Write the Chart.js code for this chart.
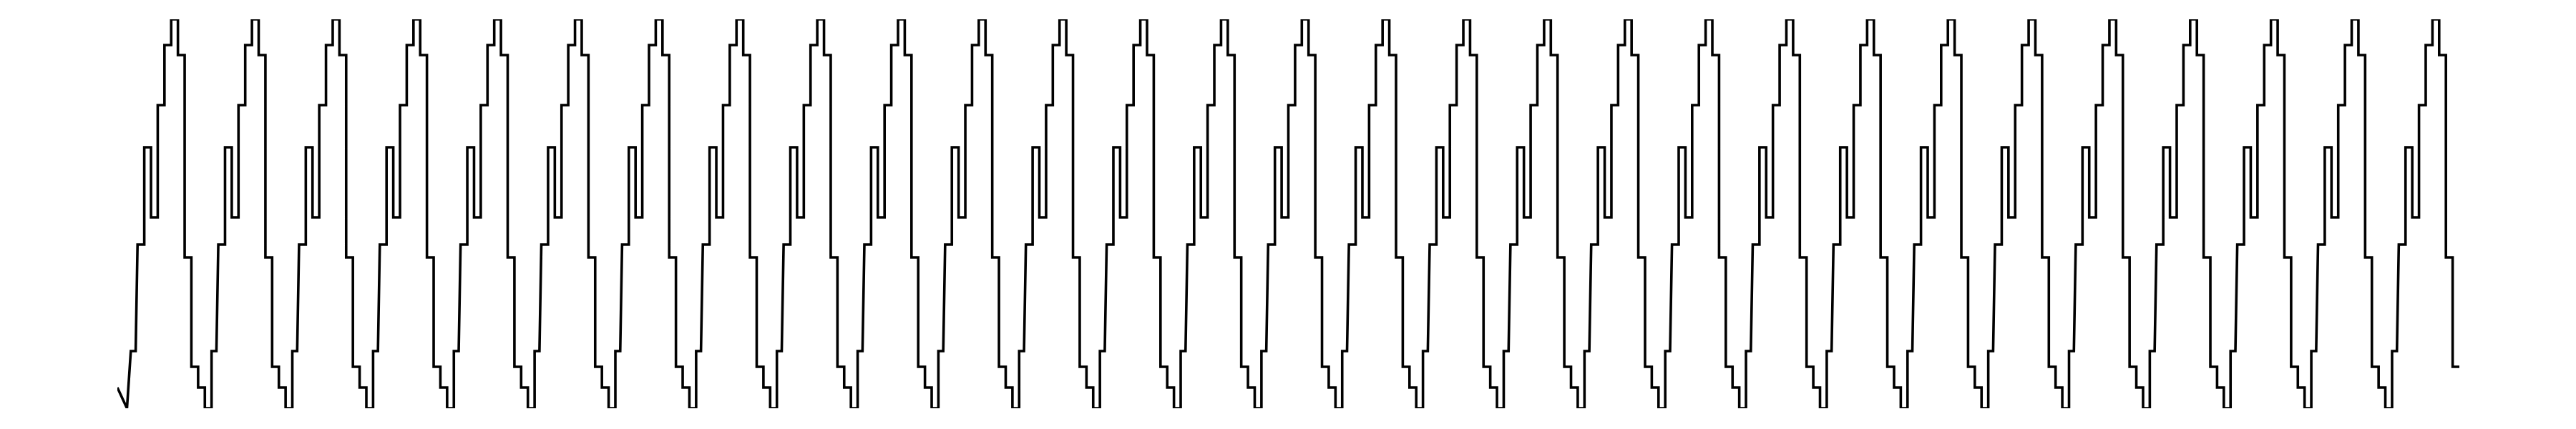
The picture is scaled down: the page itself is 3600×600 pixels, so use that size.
<!DOCTYPE html>
<html>
<head>
<meta charset="utf-8">
<title>Step signal</title>
<script src="https://cdn.jsdelivr.net/npm/chart.js@4.4.1/dist/chart.umd.min.js"></script>
<style>
  html, body { margin: 0; padding: 0; background: #fff; }
  #chartBox { width: 3600px; height: 600px; }
</style>
</head>
<body>
<div id="chartBox"><canvas id="stepChart" width="3600" height="600"></canvas></div>
<script>
// signal level per sample (one row = one cycle of 12 samples)
var values = [
  29, 0, 80, 229, 365, 267, 424, 508, 544, 494, 211, 58,
  29, 0, 80, 229, 365, 267, 424, 508, 544, 494, 211, 58,
  29, 0, 80, 229, 365, 267, 424, 508, 544, 494, 211, 58,
  29, 0, 80, 229, 365, 267, 424, 508, 544, 494, 211, 58,
  29, 0, 80, 229, 365, 267, 424, 508, 544, 494, 211, 58,
  29, 0, 80, 229, 365, 267, 424, 508, 544, 494, 211, 58,
  29, 0, 80, 229, 365, 267, 424, 508, 544, 494, 211, 58,
  29, 0, 80, 229, 365, 267, 424, 508, 544, 494, 211, 58,
  29, 0, 80, 229, 365, 267, 424, 508, 544, 494, 211, 58,
  29, 0, 80, 229, 365, 267, 424, 508, 544, 494, 211, 58,
  29, 0, 80, 229, 365, 267, 424, 508, 544, 494, 211, 58,
  29, 0, 80, 229, 365, 267, 424, 508, 544, 494, 211, 58,
  29, 0, 80, 229, 365, 267, 424, 508, 544, 494, 211, 58,
  29, 0, 80, 229, 365, 267, 424, 508, 544, 494, 211, 58,
  29, 0, 80, 229, 365, 267, 424, 508, 544, 494, 211, 58,
  29, 0, 80, 229, 365, 267, 424, 508, 544, 494, 211, 58,
  29, 0, 80, 229, 365, 267, 424, 508, 544, 494, 211, 58,
  29, 0, 80, 229, 365, 267, 424, 508, 544, 494, 211, 58,
  29, 0, 80, 229, 365, 267, 424, 508, 544, 494, 211, 58,
  29, 0, 80, 229, 365, 267, 424, 508, 544, 494, 211, 58,
  29, 0, 80, 229, 365, 267, 424, 508, 544, 494, 211, 58,
  29, 0, 80, 229, 365, 267, 424, 508, 544, 494, 211, 58,
  29, 0, 80, 229, 365, 267, 424, 508, 544, 494, 211, 58,
  29, 0, 80, 229, 365, 267, 424, 508, 544, 494, 211, 58,
  29, 0, 80, 229, 365, 267, 424, 508, 544, 494, 211, 58,
  29, 0, 80, 229, 365, 267, 424, 508, 544, 494, 211, 58,
  29, 0, 80, 229, 365, 267, 424, 508, 544, 494, 211, 58,
  29, 0, 80, 229, 365, 267, 424, 508, 544, 494, 211, 58,
  29, 0, 80, 229, 365, 267, 424, 508, 544, 494, 211, 58
];

// the first three samples are joined by straight lines, not steps
var leadTimes = [0, 1.43, 2];

// the climb out of the 80 level is not instant (fraction of a sample)
var rampFrom = 80;
var rampLength = 0.28;

var yMin = 0;
var yMax = 544;

// build the corner points of the trace
var points = [];
for (var i = 0; i < leadTimes.length; i++) {
  points.push({x: leadTimes[i], y: values[i]});
}
for (var j = leadTimes.length; j <= values.length; j++) {
  var prev = values[j - 1];
  var holdEnd = j - (prev === rampFrom ? rampLength : 0);
  points.push({x: holdEnd, y: prev});
  if (j < values.length) {
    points.push({x: j, y: values[j]});
  }
}

var config = {
  type: 'line',
  data: {
    datasets: [{
      data: points,
      borderColor: '#000000',
      borderWidth: 3.6,
      borderJoinStyle: 'miter',
      borderCapStyle: 'butt',
      pointRadius: 0,
      tension: 0,
      fill: false
    }]
  },
  options: {
    responsive: false,
    animation: false,
    devicePixelRatio: 1,
    layout: {
      padding: {left: 164, right: 163, top: 27, bottom: 29}
    },
    plugins: {
      legend: {display: false},
      tooltip: {enabled: false}
    },
    scales: {
      x: {type: 'linear', min: 0, max: values.length, display: false},
      y: {min: yMin, max: yMax, display: false}
    }
  }
};

var ctx = document.getElementById("stepChart");
var chart = new Chart(ctx, config);
</script>
</body>
</html>
